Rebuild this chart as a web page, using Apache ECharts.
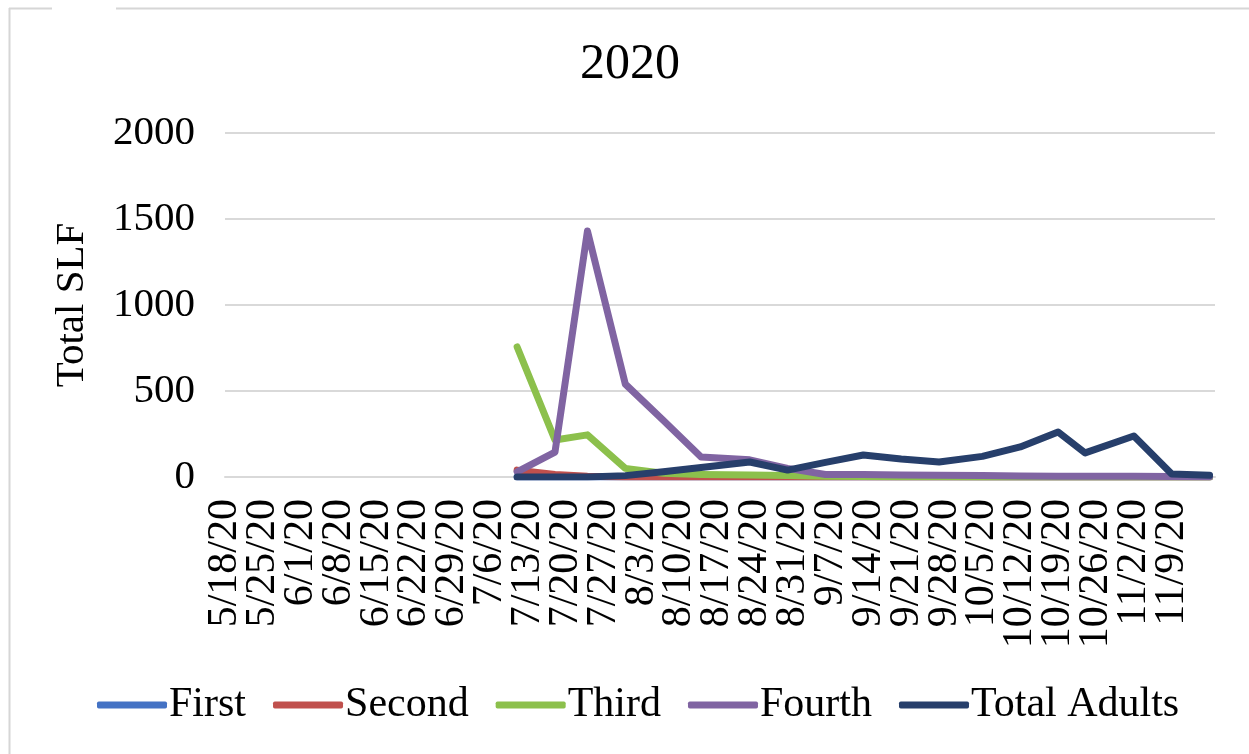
<!DOCTYPE html>
<html>
<head>
<meta charset="utf-8">
<title>2020</title>
<script src="https://cdn.jsdelivr.net/npm/echarts@6/dist/echarts.min.js"></script>
<style>
  html, body { margin: 0; padding: 0; background: #ffffff; }
  #chart { width: 1249px; height: 754px; }
</style>
</head>
<body>
<div id="chart"></div>
<script>
// Weekly tick labels along the date axis (Mondays)
const tickLabels = [
  '5/18/20', '5/25/20', '6/1/20', '6/8/20', '6/15/20', '6/22/20', '6/29/20',
  '7/6/20', '7/13/20', '7/20/20', '7/27/20', '8/3/20', '8/10/20', '8/17/20',
  '8/24/20', '8/31/20', '9/7/20', '9/14/20', '9/21/20', '9/28/20', '10/5/20',
  '10/12/20', '10/19/20', '10/26/20', '11/2/20', '11/9/20'
];

// Survey dates
const sampleDates = [
  '2020-07-11', '2020-07-18', '2020-07-24', '2020-07-31', '2020-08-07',
  '2020-08-14', '2020-08-23', '2020-08-30', '2020-09-06', '2020-09-13',
  '2020-09-20', '2020-09-27', '2020-10-05', '2020-10-12', '2020-10-19',
  '2020-10-24', '2020-11-02', '2020-11-09', '2020-11-16'
];

// Counts per life stage on each survey date
const firstInstar  = [0, 0, 0, 0, 0, 0, 0, 0, 0, 0, 0, 0, 0, 0, 0, 0, 0, 0, 0];
const secondInstar = [40, 15, 5, 0, 0, 0, 0, 0, 0, 0, 0, 0, 0, 0, 0, 0, 0, 0, 0];
const thirdInstar  = [756, 215, 245, 50, 22, 15, 12, 8, 5, 3, 2, 1, 0, 0, 0, 0, 0, 0, 0];
const fourthInstar = [30, 145, 1430, 540, 330, 116, 100, 50, 15, 15, 12, 10, 8, 6, 5, 5, 4, 3, 2];
const totalAdults  = [0, 0, 0, 8, 30, 55, 87, 40, 85, 128, 105, 87, 120, 175, 262, 140, 238, 17, 10];

const seriesNames  = ['First', 'Second', 'Third', 'Fourth', 'Total Adults'];
const seriesColors = ['#4472c4', '#c0504d', '#8cc04c', '#8064a2', '#273f6b'];

// Date axis runs in days counted from the first tick
const axisStart = Date.UTC(2020, 4, 18);
const DAY = 86400000;
function dayOffset(iso) {
  const p = iso.split('-').map(Number);
  return Math.round((Date.UTC(p[0], p[1] - 1, p[2]) - axisStart) / DAY);
}
const days = sampleDates.map(dayOffset);
const AXIS_DAYS = 183;

function pairs(values) {
  return values.map((v, i) => [days[i], v]);
}

const allValues = [firstInstar, secondInstar, thirdInstar, fourthInstar, totalAdults];

const FONT = '"Liberation Serif", "Times New Roman", serif';

// Plot box
const PLOT_LEFT = 225, PLOT_RIGHT = 1215, PLOT_TOP = 133, PLOT_BOTTOM = 477;
const W = 1249, H = 754;
const plotWidth = PLOT_RIGHT - PLOT_LEFT;
// The weekly labels span from the first tick to the last labelled Monday
const lastTickDay = (tickLabels.length - 1) * 7;
const labelSpan = plotWidth * lastTickDay / AXIS_DAYS;

const chart = echarts.init(document.getElementById('chart'), null, { renderer: 'canvas' });

chart.setOption({
  backgroundColor: '#ffffff',
  animation: false,
  title: {
    text: '2020',
    left: 575,
    top: 35,
    textStyle: { fontFamily: FONT, fontSize: 50, fontWeight: 'normal', color: '#000000' }
  },
  legend: {
    bottom: 23,
    left: 92,
    itemWidth: 70,
    itemHeight: 7,
    itemGap: 27,
    icon: 'roundRect',
    data: seriesNames,
    textStyle: { fontFamily: FONT, fontSize: 42, color: '#000000', padding: [0, 0, 0, -3] }
  },
  grid: [
    { left: PLOT_LEFT, right: W - PLOT_RIGHT, top: PLOT_TOP, bottom: H - PLOT_BOTTOM, containLabel: false },
    { left: PLOT_LEFT, width: labelSpan, top: PLOT_TOP, bottom: H - PLOT_BOTTOM, containLabel: false }
  ],
  xAxis: [
    {
      gridIndex: 0,
      type: 'value',
      min: 0,
      max: AXIS_DAYS,
      interval: 7,
      axisLine: { show: true, lineStyle: { color: '#d9d9d9', width: 2 } },
      axisTick: { show: false },
      splitLine: { show: false },
      axisLabel: { show: false }
    },
    {
      gridIndex: 1,
      type: 'category',
      boundaryGap: false,
      data: tickLabels,
      axisLine: { show: false },
      axisTick: { show: false },
      splitLine: { show: false },
      axisLabel: {
        interval: 0,
        rotate: 90,
        margin: 22,
        fontFamily: FONT,
        fontSize: 42,
        color: '#000000'
      }
    }
  ],
  yAxis: [
    {
      gridIndex: 0,
      type: 'value',
      min: 0,
      max: 2000,
      interval: 500,
      name: 'Total SLF',
      nameLocation: 'middle',
      nameGap: 132,
      nameRotate: 90,
      nameTextStyle: { fontFamily: FONT, fontSize: 41, color: '#000000' },
      axisLine: { show: false },
      axisTick: { show: false },
      splitLine: { lineStyle: { color: '#d9d9d9', width: 2 } },
      axisLabel: {
        margin: 30,
        fontFamily: FONT,
        fontSize: 41,
        color: '#000000',
        formatter: function (v) { return String(v); }
      }
    },
    {
      gridIndex: 1,
      type: 'value',
      min: 0,
      max: 2000,
      show: false
    }
  ],
  graphic: [
    { type: 'line', shape: { x1: 9.5, y1: 8, x2: 9.5, y2: 754 }, style: { stroke: '#d6d6d6', lineWidth: 2 }, silent: true },
    { type: 'line', shape: { x1: 9, y1: 8.5, x2: 52, y2: 8.5 }, style: { stroke: '#d6d6d6', lineWidth: 2 }, silent: true },
    { type: 'line', shape: { x1: 116, y1: 8.5, x2: 1249, y2: 8.5 }, style: { stroke: '#d6d6d6', lineWidth: 2 }, silent: true }
  ],
  series: seriesNames.map((name, k) => ({
    name: name,
    type: 'line',
    xAxisIndex: 0,
    yAxisIndex: 0,
    data: pairs(allValues[k]),
    symbol: 'none',
    color: seriesColors[k],
    lineStyle: { width: 7, color: seriesColors[k], join: 'round', cap: 'round' },
    itemStyle: { color: seriesColors[k] },
    z: 2 + k
  }))
});
</script>
</body>
</html>
